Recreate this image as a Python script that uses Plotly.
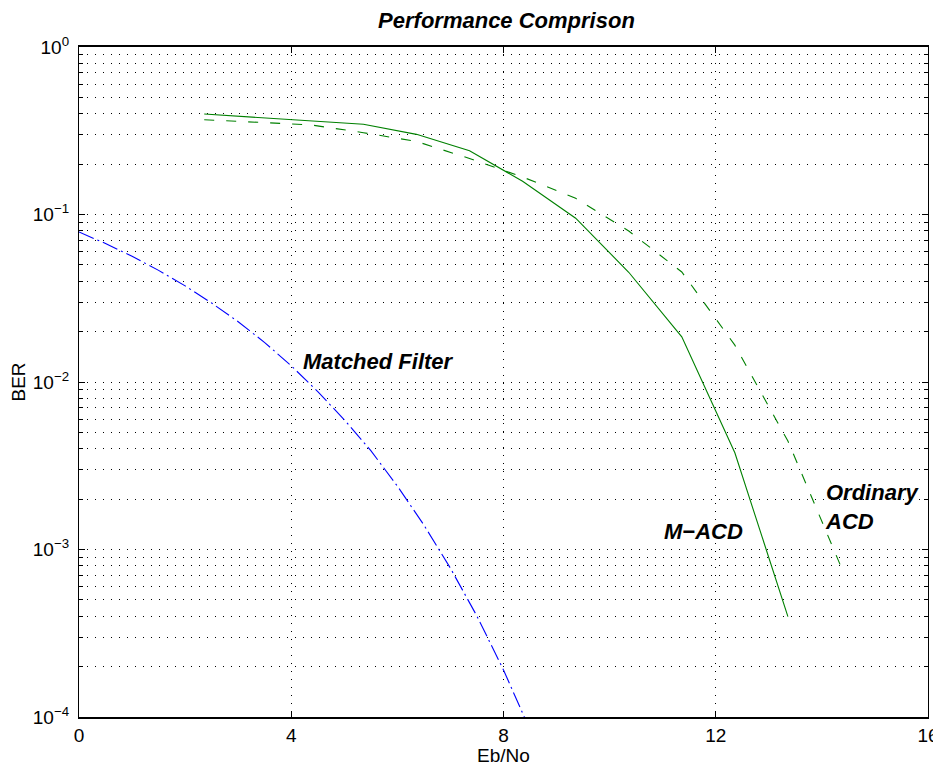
import plotly.graph_objects as go

# ---- data ----
acd_x = [2.36, 3.36, 4.36, 5.36, 6.36, 7.36, 8.36, 9.36, 10.36, 11.36, 12.36, 13.36, 14.36]
m_acd_ber = [0.398, 0.379, 0.362, 0.346, 0.301, 0.240, 0.158, 0.095, 0.0452, 0.0186, 0.00378, 0.000397]
ordinary_acd_ber = [0.368, 0.357, 0.343, 0.308, 0.273, 0.216, 0.1675, 0.125, 0.0797, 0.0454, 0.0166, 0.00444, 0.00079]

mf_x = [0, 0.5, 1, 1.5, 2, 2.5, 3, 3.5, 4, 4.5, 5, 5.5, 6, 6.5, 7, 7.5, 8, 8.5, 9]
mf_ber = [0.0786, 0.0671, 0.0563, 0.0464, 0.0375, 0.0296, 0.0229, 0.0172, 0.0125, 0.00876,
          0.00595, 0.00389, 0.00239, 0.00140, 0.000773, 0.000400, 0.000191, 0.0000837, 0.0000336]

x_ticks = [0, 4, 8, 12, 16]
y_ticks = [1e-4, 1e-3, 1e-2, 1e-1, 1]
y_ticktext = ["10<sup>−4</sup>", "10<sup>−3</sup>", "10<sup>−2</sup>", "10<sup>−1</sup>", "10<sup>0</sup>"]

title_text = "Performance Comprison"
x_label = "Eb/No"
y_label = "BER"

FONT = "Liberation Sans, Arial, Helvetica, sans-serif"
GREEN = "#008000"
BLUE = "#0000ff"
GRID_DASH = "1px,7px"

# the page body adds an 8px offset, so the figure is 8px smaller on each axis
FIG_W, FIG_H = 933, 758

fig = go.Figure()
fig.add_trace(go.Scatter(x=acd_x[:len(m_acd_ber)], y=m_acd_ber, mode="lines",
                         line=dict(color=GREEN, width=1.1), showlegend=False))
fig.add_trace(go.Scatter(x=acd_x, y=ordinary_acd_ber, mode="lines",
                         line=dict(color=GREEN, width=1.1, dash="10px,12px"), showlegend=False))
fig.add_trace(go.Scatter(x=mf_x, y=mf_ber, mode="lines",
                         line=dict(color=BLUE, width=1.1, dash="16px,4px,2px,4px"), showlegend=False))

ann_font = dict(family=FONT, size=22, color="black", weight="bold", style="italic")
fig.add_annotation(x=5.64, y=-1.875, xref="x", yref="y", text="Matched Filter",
                   showarrow=False, font=ann_font, xanchor="center", yanchor="middle")
fig.add_annotation(x=11.76, y=-2.89, xref="x", yref="y", text="M−ACD",
                   showarrow=False, font=ann_font, xanchor="center", yanchor="middle")
fig.add_annotation(x=14.02, y=-2.749, xref="x", yref="y", text="Ordinary<br>ACD",
                   showarrow=False, font=ann_font, xanchor="left", yanchor="middle", align="left")

fig.update_layout(
    width=FIG_W, height=FIG_H,
    margin=dict(l=71, r=13, t=39, b=49, autoexpand=False),
    paper_bgcolor="white", plot_bgcolor="white",
    font=dict(family=FONT, size=18, color="black"),
    title=dict(text=title_text, x=0.5035, xref="paper", xanchor="center",
               y=1 - 12.5 / FIG_H, yref="container", yanchor="middle", automargin=False,
               font=dict(family=FONT, size=22, color="black", weight="bold", style="italic")),
    xaxis=dict(range=[0, 16], tickvals=x_ticks, ticks="inside", ticklen=6, tickcolor="black",
               showline=True, linecolor="black", linewidth=1.5, mirror="ticks",
               showgrid=True, gridcolor="black", gridwidth=1, griddash=GRID_DASH,
               zeroline=False, tickfont=dict(size=19), automargin=False,
               title=dict(text=x_label, font=dict(size=19), standoff=6)),
    yaxis=dict(type="log", range=[-4, 0], tickvals=y_ticks, ticktext=y_ticktext,
               ticks="inside", ticklen=6, tickcolor="black",
               showline=True, linecolor="black", linewidth=1.2, mirror="ticks",
               showgrid=True, gridcolor="black", gridwidth=1, griddash=GRID_DASH,
               zeroline=False, tickfont=dict(size=19), automargin=False,
               ticklabelstandoff=5,
               minor=dict(dtick="D1", ticks="inside", ticklen=4, tickcolor="black",
                          showgrid=True, gridcolor="black", gridwidth=1, griddash=GRID_DASH),
               title=dict(text=y_label, font=dict(size=19), standoff=6)),
)

fig.write_html("out.html")
